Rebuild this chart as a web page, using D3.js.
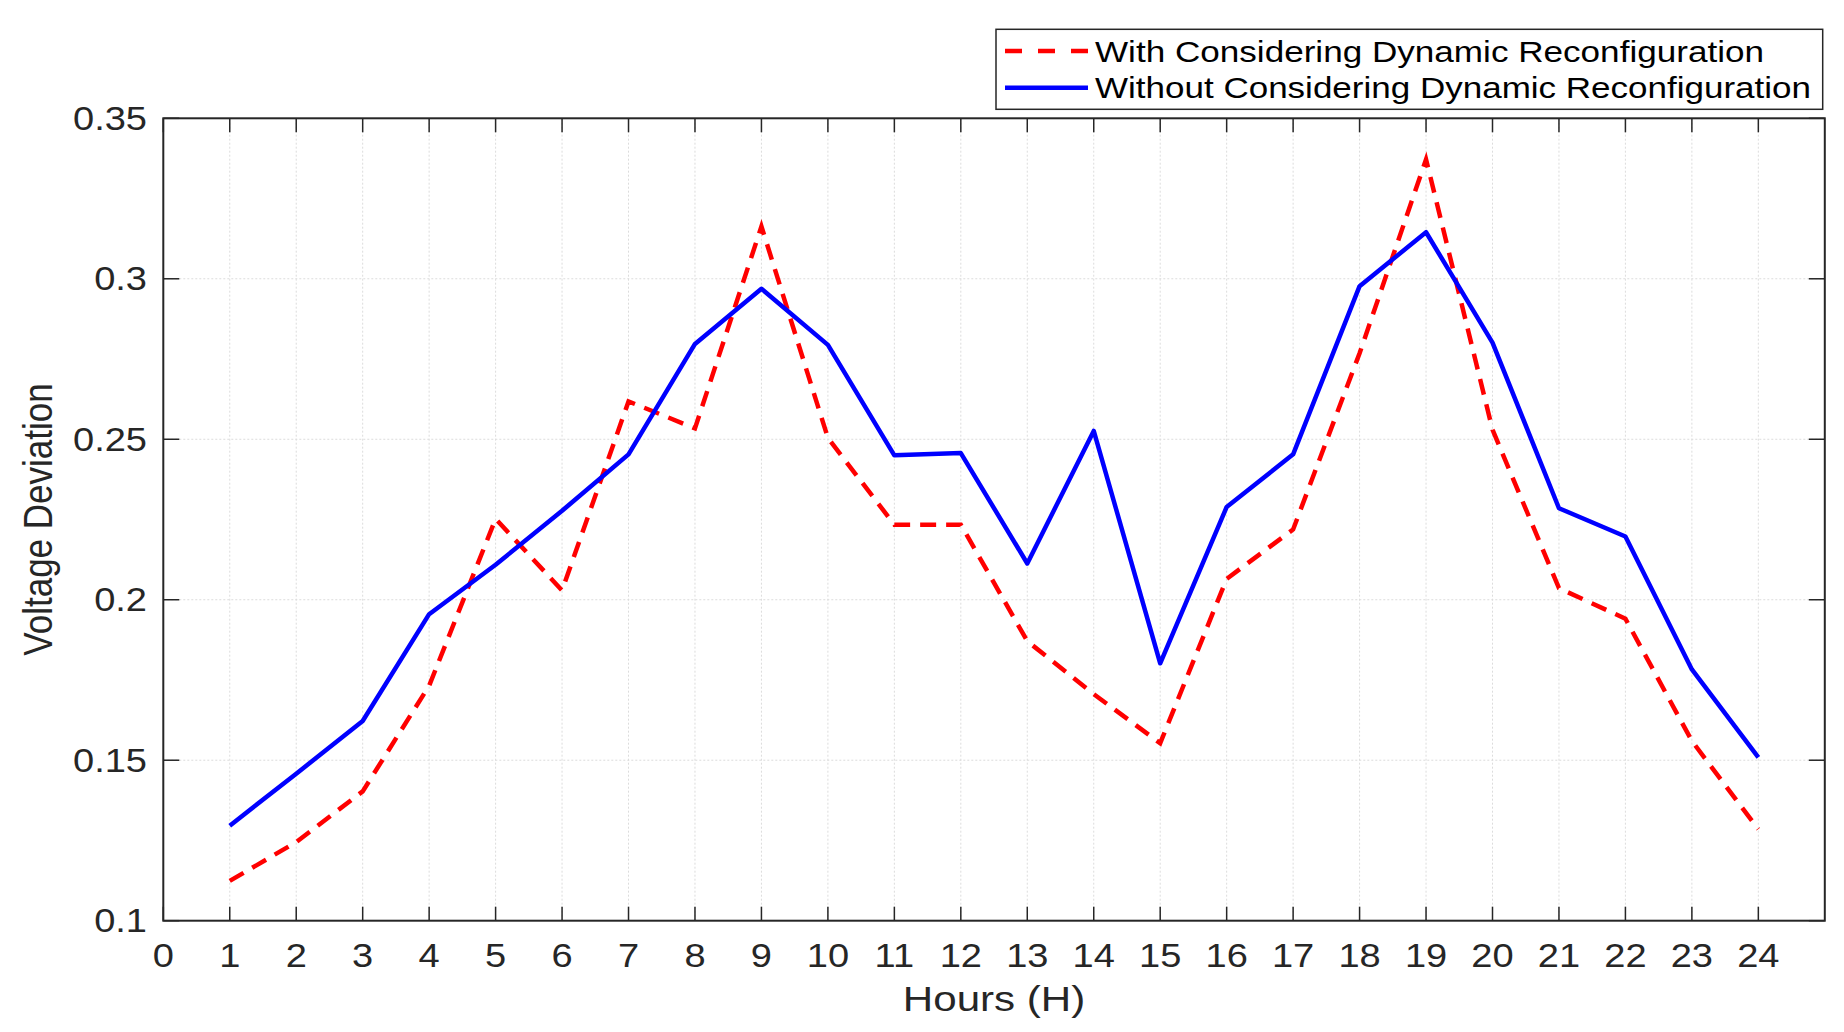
<!DOCTYPE html>
<html>
<head>
<meta charset="utf-8">
<script src="https://cdn.jsdelivr.net/npm/d3@7"></script>
<style>
  html, body { margin: 0; padding: 0; background: #fff; }
  svg { display: block; }
</style>
</head>
<body>
<script>
const hours = d3.range(1, 25);
const withReconfig = [0.1124, 0.1245, 0.1403, 0.1732, 0.2252, 0.2029, 0.2618, 0.2534, 0.3163, 0.2504, 0.2234, 0.2234,
                      0.1871, 0.1706, 0.1553, 0.2065, 0.2219, 0.2768, 0.3372, 0.2530, 0.2036, 0.1941, 0.1560, 0.1285];
const withoutReconfig = [0.1296, 0.1458, 0.1622, 0.1955, 0.2109, 0.2277, 0.2453, 0.2797, 0.2969, 0.2794, 0.2450, 0.2457,
                         0.2113, 0.2526, 0.1802, 0.2289, 0.2453, 0.2977, 0.3145, 0.2801, 0.2285, 0.2197, 0.1783, 0.1509];
const xTicks = d3.range(0, 25);
const yTicks = [0.1, 0.15, 0.2, 0.25, 0.3, 0.35];
const seriesNames = ["With Considering Dynamic Reconfiguration", "Without Considering Dynamic Reconfiguration"];

const width = 1844, height = 1032;
const margin = {left: 163.3, right: 1844 - 1824.8, top: 118.3, bottom: 1032 - 920.7};
const sx = 1.17; // the picture is stretched sideways
const font = "'Liberation Sans', Arial, sans-serif";

const svg = d3.select("body").append("svg")
    .attr("width", width)
    .attr("height", height);

const x = d3.scaleLinear().domain([0, 25]).range([margin.left, width - margin.right]);
const y = d3.scaleLinear().domain([0.1, 0.35]).range([height - margin.bottom, margin.top]);

function label(g, tx, ty, txt, size, anchor, rot) {
  return g.append("text")
      .attr("transform", rot ? `translate(${tx},${ty}) rotate(-90) scale(1,${sx})` : `translate(${tx},${ty}) scale(${sx},1)`)
      .attr("text-anchor", anchor)
      .style("font-family", font)
      .style("font-size", size + "px")
      .attr("fill", "#262626")
      .text(txt);
}

// grid
const grid = svg.append("g").attr("stroke", "#dcdcdc").attr("stroke-width", 1);
grid.selectAll("line.v")
  .data(xTicks.slice(1))
  .join("line")
    .attr("x1", d => x(d)).attr("x2", d => x(d))
    .attr("y1", y(0.1)).attr("y2", y(0.35))
    .attr("stroke-dasharray", "2,2");
grid.selectAll("line.h")
  .data(yTicks.slice(1, -1))
  .join("line")
    .attr("x1", x(0)).attr("x2", x(25))
    .attr("y1", d => y(d)).attr("y2", d => y(d))
    .attr("stroke-dasharray", "2,2");

// ticks (inward, all four sides)
const tk = svg.append("g").attr("stroke", "#262626").attr("stroke-width", 1.5);
xTicks.forEach(d => {
  tk.append("line").attr("x1", x(d)).attr("x2", x(d)).attr("y1", y(0.1)).attr("y2", y(0.1) - 14);
  tk.append("line").attr("x1", x(d)).attr("x2", x(d)).attr("y1", y(0.35)).attr("y2", y(0.35) + 14);
});
yTicks.forEach(d => {
  tk.append("line").attr("x1", x(0)).attr("x2", x(0) + 16).attr("y1", y(d)).attr("y2", y(d));
  tk.append("line").attr("x1", x(25)).attr("x2", x(25) - 16).attr("y1", y(d)).attr("y2", y(d));
});

// lines
const line = (vals) => d3.line().x((d, i) => x(hours[i])).y(d => y(d))(vals);
svg.append("path")
    .attr("d", line(withReconfig))
    .attr("fill", "none")
    .attr("stroke", "#ff0000")
    .attr("stroke-width", 4.5)
    .attr("stroke-dasharray", "16,10");
svg.append("path")
    .attr("d", line(withoutReconfig))
    .attr("fill", "none")
    .attr("stroke", "#0000ff")
    .attr("stroke-width", 4.5)
    .attr("stroke-linejoin", "round");

// axis box
svg.append("rect")
    .attr("x", x(0)).attr("y", y(0.35))
    .attr("width", x(25) - x(0)).attr("height", y(0.1) - y(0.35))
    .attr("fill", "none")
    .attr("stroke", "#262626")
    .attr("stroke-width", 2);

// tick labels
const tl = svg.append("g");
xTicks.forEach(d => label(tl, x(d), 967, String(d), 32.5, "middle"));
yTicks.forEach(d => label(tl, 147, y(d) + 11.5, String(d), 32.5, "end"));

// axis titles
label(svg, (x(0) + x(25)) / 2, 1010.7, "Hours (H)", 36, "middle");
label(svg, 52, (y(0.1) + y(0.35)) / 2, "Voltage Deviation", 35, "middle", true);

// legend
const lg = svg.append("g");
lg.append("rect")
    .attr("x", 996).attr("y", 29.3)
    .attr("width", 1822.7 - 996).attr("height", 109.3 - 29.3)
    .attr("fill", "#fff")
    .attr("stroke", "#262626")
    .attr("stroke-width", 1.5);
const legendY = [51, 87.7];
const legendLen = [669, 716];
lg.append("line").attr("x1", 1005).attr("x2", 1088).attr("y1", legendY[0]).attr("y2", legendY[0])
    .attr("stroke", "#ff0000").attr("stroke-width", 4.5).attr("stroke-dasharray", "17,16");
lg.append("line").attr("x1", 1005).attr("x2", 1088).attr("y1", legendY[1]).attr("y2", legendY[1])
    .attr("stroke", "#0000ff").attr("stroke-width", 4.5);
seriesNames.forEach((n, i) => {
  lg.append("text")
      .attr("x", 1095).attr("y", legendY[i] + 10.5)
      .attr("textLength", legendLen[i])
      .attr("lengthAdjust", "spacingAndGlyphs")
      .style("font-family", font)
      .style("font-size", "29px")
      .attr("fill", "#000")
      .text(n);
});
</script>
</body>
</html>
